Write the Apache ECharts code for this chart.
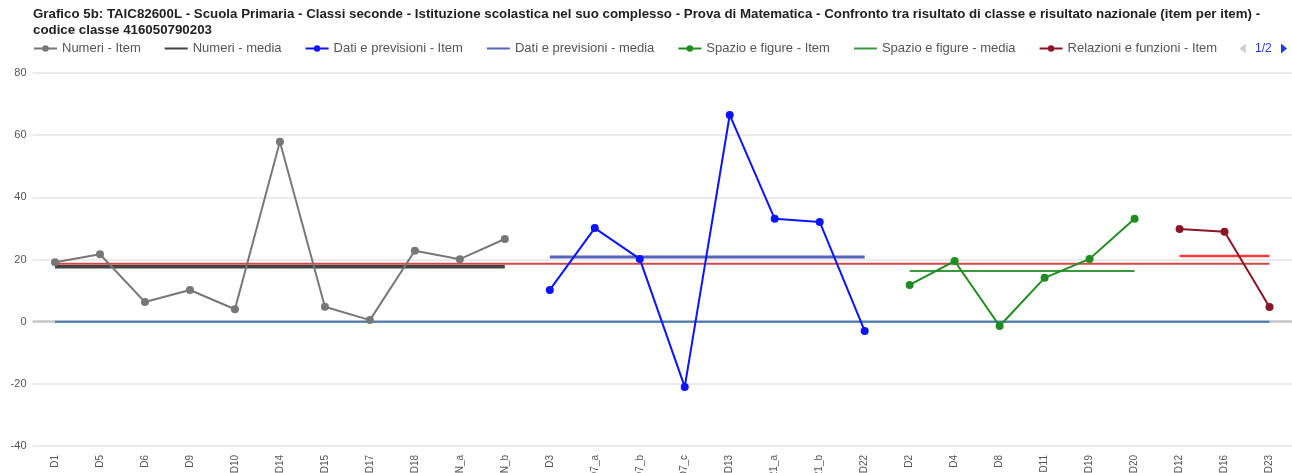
<!DOCTYPE html>
<html>
<head>
<meta charset="utf-8">
<script src="https://cdn.jsdelivr.net/npm/echarts@6/dist/echarts.min.js"></script>
<style>
  html, body { margin: 0; padding: 0; background: #fff; }
  #chart { width: 1292px; height: 473px; }
</style>
</head>
<body>
<div id="chart"></div>
<script>
// categorie (item) per ambito
const numeriCat = ['D1', 'D5', 'D6', 'D9', 'D10', 'D14', 'D15', 'D17', 'D18', 'D24N_a', 'D24N_b']
const datiCat = ['D3', 'D7_a', 'D7_b', 'D7_c', 'D13', 'D21_a', 'D21_b', 'D22']
const spazioCat = ['D2', 'D4', 'D8', 'D11', 'D19', 'D20']
const relazioniCat = ['D12', 'D16', 'D23']

// differenza classe - nazionale, item per item
const numeriItem = [19.1, 21.7, 6.3, 10.2, 4.0, 57.9, 4.8, 0.5, 22.8, 20.1, 26.6]
const datiItem = [10.2, 30.1, 20.2, -21.0, 66.5, 33.1, 32.1, -3.0]
const spazioItem = [11.8, 19.5, -1.4, 14.1, 20.2, 33.1]
const relazioniItem = [29.8, 28.9, 4.7]

// medie per ambito
const numeriMedia = 17.7
const datiMedia = 20.8
const spazioMedia = 16.3
const relazioniMedia = 21.1
const totaleMedia = 18.6
const nazionale = 0

const yTicks = { min: -40, max: 80, interval: 20 }

const categories = [...numeriCat, ...datiCat, ...spazioCat, ...relazioniCat]
const groups = [numeriCat, datiCat, spazioCat, relazioniCat]
const offsets = []
let acc = 0
groups.forEach(g => { offsets.push(acc); acc += g.length })

// mette i valori di un ambito nella sua posizione sull'asse
const place = (groupIdx, values) => {
  const out = categories.map(() => null)
  values.forEach((v, i) => { out[offsets[groupIdx] + i] = v })
  return out
}
const flat = (groupIdx, value) => place(groupIdx, groups[groupIdx].map(() => value))

const itemSeries = (name, data, color) => ({
  name,
  type: 'line',
  data,
  symbol: 'circle',
  symbolSize: 8,
  connectNulls: false,
  z: 5,
  lineStyle: { color, width: 2 },
  itemStyle: { color }
})

const mediaSeries = (name, data, color, width) => ({
  name,
  type: 'line',
  data,
  symbol: 'none',
  z: 3,
  lineStyle: { color, width },
  itemStyle: { color }
})

const font = 'Liberation Sans, Arial, sans-serif'
const noSymbol = { opacity: 0 }

const chart = echarts.init(document.getElementById('chart'))

const option = {
  animation: false,
  title: {
    text: 'Grafico 5b: TAIC82600L - Scuola Primaria - Classi seconde - Istituzione scolastica nel suo complesso - Prova di Matematica - Confronto tra risultato di classe e risultato nazionale (item per item) -\ncodice classe 416050790203',
    left: 28,
    top: 1,
    textStyle: {
      fontFamily: font,
      fontSize: 13.3,
      fontWeight: 'bold',
      color: '#222',
      lineHeight: 16
    }
  },
  legend: {
    type: 'scroll',
    left: 28,
    right: 0,
    top: 37,
    itemWidth: 23,
    itemHeight: 8,
    itemGap: 23,
    textStyle: {
      fontFamily: font,
      fontSize: 13,
      color: '#555'
    },
    pageButtonGap: 4,
    pageButtonItemGap: 4,
    pageIconColor: '#1a3de0',
    pageIconInactiveColor: '#ccc',
    pageIconSize: 10,
    pageTextStyle: { color: '#1a3de0', fontSize: 12 },
    data: [
      'Numeri - Item',
      { name: 'Numeri - media', itemStyle: noSymbol },
      'Dati e previsioni - Item',
      { name: 'Dati e previsioni - media', itemStyle: noSymbol },
      'Spazio e figure - Item',
      { name: 'Spazio e figure - media', itemStyle: noSymbol },
      'Relazioni e funzioni - Item',
      { name: 'Relazioni e funzioni - media', itemStyle: noSymbol },
      { name: 'Media complessiva', itemStyle: noSymbol },
      { name: 'Risultato nazionale', itemStyle: noSymbol }
    ]
  },
  grid: {
    left: 32.5,
    right: 0,
    top: 73,
    bottom: 27,
    containLabel: false,
    outerBoundsMode: 'none'
  },
  xAxis: {
    type: 'category',
    data: categories,
    boundaryGap: true,
    axisLine: { show: false, onZero: false },
    axisTick: { show: false },
    axisLabel: {
      rotate: 90,
      interval: 0,
      fontSize: 10,
      color: '#555',
      margin: 9,
      fontFamily: font
    },
    splitLine: { show: false }
  },
  yAxis: {
    type: 'value',
    min: yTicks.min,
    max: yTicks.max,
    interval: yTicks.interval,
    axisLine: { show: false },
    axisTick: { show: false },
    axisLabel: {
      fontSize: 11,
      color: '#555',
      margin: 6,
      fontFamily: font
    },
    splitLine: { lineStyle: { color: '#e4e4e4', width: 1.5 } }
  },
  series: [
    {
      name: 'Risultato nazionale',
      type: 'line',
      data: categories.map(() => nazionale),
      symbol: 'none',
      z: 2,
      lineStyle: { color: '#4a78b0', width: 2 },
      itemStyle: { color: '#4a78b0' },
      markLine: {
        silent: true,
        symbol: 'none',
        label: { show: false },
        lineStyle: { color: '#c8c8c8', width: 2.5, type: 'solid' },
        data: [{ yAxis: 0 }],
        z: 1
      }
    },
    mediaSeries('Numeri - media', flat(0, numeriMedia), '#444', 3.5),
    mediaSeries('Dati e previsioni - media', flat(1, datiMedia), '#5563b8', 3),
    mediaSeries('Spazio e figure - media', flat(2, spazioMedia), '#3c983c', 2),
    mediaSeries('Relazioni e funzioni - media', flat(3, relazioniMedia), '#ff3838', 2.5),
    mediaSeries('Media complessiva', categories.map(() => totaleMedia), '#d04848', 2),
    itemSeries('Numeri - Item', place(0, numeriItem), '#777'),
    itemSeries('Dati e previsioni - Item', place(1, datiItem), '#0a14ff'),
    itemSeries('Spazio e figure - Item', place(2, spazioItem), '#1e8c1e'),
    itemSeries('Relazioni e funzioni - Item', place(3, relazioniItem), '#8b1428')
  ]
}

chart.setOption(option)
</script>
</body>
</html>
